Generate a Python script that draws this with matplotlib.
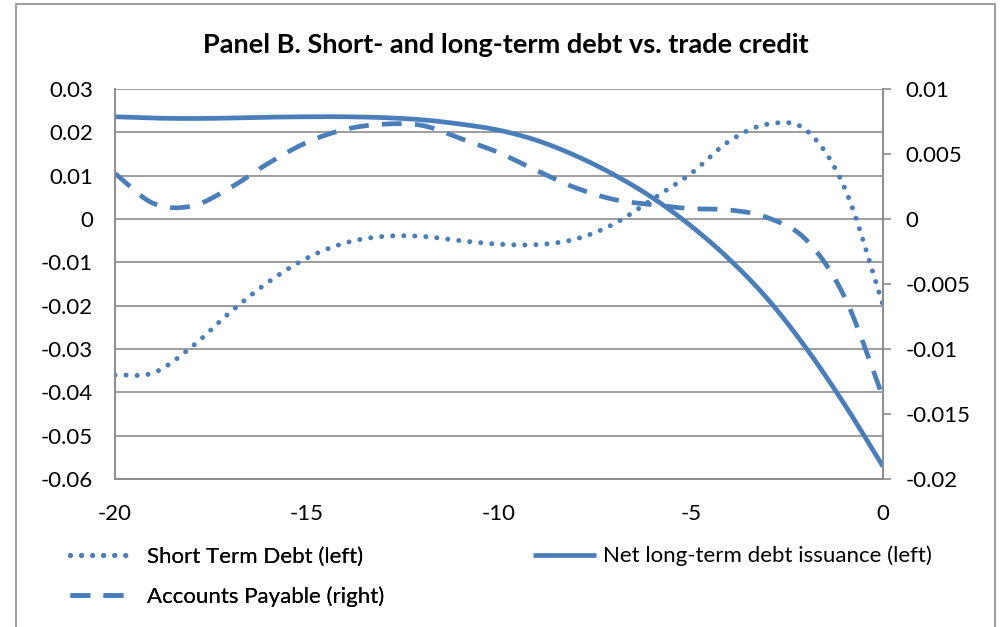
import matplotlib
matplotlib.use('Agg')
import matplotlib.pyplot as plt
import matplotlib.patches as patches
import numpy as np

plt.rcParams['font.family'] = ['Lato', 'DejaVu Sans']

years = np.arange(-20, 1)

short_term_debt = [-0.0360, -0.0355, -0.0295, -0.0215, -0.0145, -0.0090, -0.0055,
                   -0.0040, -0.0040, -0.0050, -0.0058, -0.0059, -0.0046, -0.0011,
                   0.0046, 0.0105, 0.0180, 0.0219, 0.0205, 0.0072, -0.0198]
net_lt_debt = [0.0236, 0.0233, 0.0232, 0.0233, 0.0235, 0.0236, 0.0236, 0.0234,
               0.0229, 0.0219, 0.0205, 0.0181, 0.0146, 0.0102, 0.0049, -0.0016,
               -0.0093, -0.0185, -0.0298, -0.0428, -0.0571]
accounts_payable = [0.0035, 0.0012, 0.0010, 0.0024, 0.0043, 0.0059, 0.0069, 0.0073,
                    0.0072, 0.0062, 0.0051, 0.0037, 0.0024, 0.0015, 0.0011, 0.0008,
                    0.0007, 0.0001, -0.0016, -0.0060, -0.0137]

blue = '#4A7EBB'
grid_gray = '#8C8C8C'


def smooth(x, y, n=20):
    # catmull-rom, roughly what excel does for "smoothed line"
    x = np.asarray(x, float)
    y = np.asarray(y, float)
    px = np.concatenate([[2*x[0]-x[1]], x, [2*x[-1]-x[-2]]])
    py = np.concatenate([[2*y[0]-y[1]], y, [2*y[-1]-y[-2]]])
    t = np.linspace(0, 1, n, endpoint=False)
    xs, ys = [], []
    for i in range(1, len(px)-2):
        for p, out in ((px, xs), (py, ys)):
            a, b, c, d = p[i-1], p[i], p[i+1], p[i+2]
            out.append(0.5*(2*b + (c-a)*t + (2*a-5*b+4*c-d)*t**2 + (3*b-a-3*c+d)*t**3))
    xs.append([x[-1]])
    ys.append([y[-1]])
    return np.concatenate(xs), np.concatenate(ys)


fig = plt.figure(figsize=(10, 6.27), dpi=100)
ax = fig.add_axes([0.115, 0.236, 0.768, 0.622])
ax2 = ax.twinx()

sx, sy = smooth(years, short_term_debt)
l1, = ax.plot(sx, sy, color=blue, lw=3.6, linestyle=(0, (0.01, 2.2)),
              dash_capstyle='round', label='Short Term Debt (left)')
nx, ny = smooth(years, net_lt_debt)
l2, = ax.plot(nx, ny, color=blue, lw=3.4, solid_capstyle='butt',
              label='Net long-term debt issuance (left)')
axx, apy = smooth(years, accounts_payable)
l3, = ax2.plot(axx, apy, color=blue, lw=3.4, linestyle=(0, (4.2, 2.8)),
               label='Accounts Payable (right)')

ax.set_xlim(-20, 0)
ax.set_ylim(-0.06, 0.03)
ax2.set_ylim(-0.02, 0.01)
ax.set_yticks(np.arange(-0.06, 0.031, 0.01))
ax.set_yticklabels(['-0.06', '-0.05', '-0.04', '-0.03', '-0.02', '-0.01', '0',
                    '0.01', '0.02', '0.03'])
ax2.set_yticks(np.arange(-0.02, 0.0101, 0.005))
ax2.set_yticklabels(['-0.02', '-0.015', '-0.01', '-0.005', '0', '0.005', '0.01'])
ax.set_xticks([-20, -15, -10, -5, 0])
ax.set_xticklabels(['-20', '-15', '-10', '-5', '0'])

ax.grid(axis='y', color=grid_gray, lw=1.2)
ax.set_axisbelow(True)
for a in (ax, ax2):
    for s in a.spines.values():
        s.set_color(grid_gray)
        s.set_linewidth(1.2)
    a.spines['top'].set_visible(False)
ax.tick_params(axis='y', length=0, pad=16, labelsize=16)
ax.tick_params(axis='x', length=0, pad=18, labelsize=16)
ax2.tick_params(axis='y', length=6, width=1.2, color=grid_gray, direction='out',
                pad=10, labelsize=16)

fig.text(0.506, 0.928, 'Panel B. Short- and long-term debt vs. trade credit',
         ha='center', va='center', fontsize=19.5, fontweight='bold')

leg1 = fig.legend(handles=[l1, l3], loc='center left', bbox_to_anchor=(0.07, 0.08),
                  frameon=False, fontsize=16, handlelength=2.85, handletextpad=0.6,
                  borderpad=0, borderaxespad=0, labelspacing=0.85)
fig.add_artist(leg1)
fig.legend(handles=[l2], loc='center left', bbox_to_anchor=(0.533, 0.113),
           frameon=False, fontsize=16, handlelength=2.85, handletextpad=0.3,
           borderpad=0, borderaxespad=0)

fig.add_artist(patches.Rectangle((0.016, -0.05), 0.979, 1.044, transform=fig.transFigure,
                                 fill=False, edgecolor='#8C8C8C', lw=1.2))

fig.savefig('out.png', dpi=100)
